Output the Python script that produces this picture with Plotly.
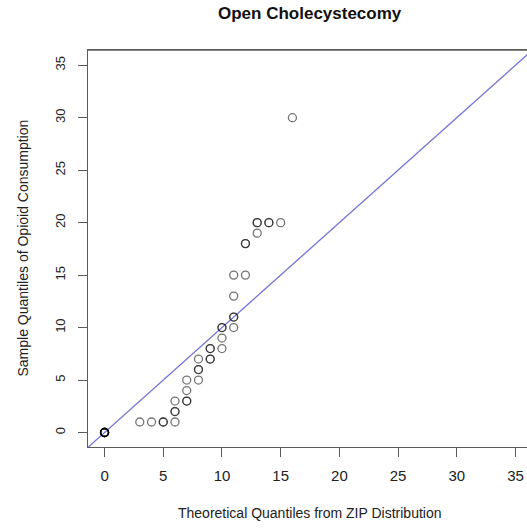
import plotly.graph_objects as go

# Theoretical quantiles (ZIP) and sample quantiles, with repeats
theoretical = [0, 0, 0, 0, 0, 0, 0, 0,
               3, 4, 5, 5, 6, 6, 6, 6, 7, 7, 7, 7, 8, 8, 8, 8,
               9, 9, 9, 9, 10, 10, 10, 10, 11, 11, 11, 11, 11,
               12, 12, 12, 13, 13, 13, 14, 14, 15, 16]
sample = [0, 0, 0, 0, 0, 0, 0, 0,
          1, 1, 1, 1, 1, 2, 2, 3, 3, 3, 4, 5, 5, 6, 6, 7,
          7, 7, 8, 8, 8, 9, 10, 10, 10, 11, 11, 13, 15,
          15, 18, 18, 19, 20, 20, 20, 20, 20, 30]

ref_intercept = 0
ref_slope = 1

tick_vals = [0, 5, 10, 15, 20, 25, 30, 35]
tick_text = ["0", "5", "10", "15", "20", "25", "30", "35"]

x_range = [-1.41, 35.98]
y_range = [-1.38, 36.45]

FONT = "Liberation Sans, Arial, sans-serif"

fig = go.Figure()

line_x = [x_range[0] - 5, x_range[1] + 5]
line_y = [ref_intercept + ref_slope * v for v in line_x]
fig.add_trace(go.Scatter(x=line_x, y=line_y, mode="lines",
                         line=dict(color="#7373d6", width=1.3),
                         hoverinfo="skip", showlegend=False))

fig.add_trace(go.Scatter(x=theoretical, y=sample, mode="markers",
                         marker=dict(symbol="circle-open", size=8,
                                     color="rgba(0,0,0,0.55)",
                                     line=dict(width=1.3)),
                         showlegend=False))

fig.update_layout(
    width=527, height=529,
    margin=dict(l=88, r=0, t=50, b=82, autoexpand=False),
    plot_bgcolor="white", paper_bgcolor="white",
    font=dict(family=FONT, color="#222"),
    xaxis=dict(range=x_range, tickvals=tick_vals, ticktext=tick_text,
               automargin=False,
               showgrid=False, zeroline=False, showline=True, mirror=True,
               linecolor="#5a5a5a", linewidth=1.3,
               ticks="outside", ticklen=9, tickcolor="#5a5a5a", tickwidth=1.2,
               tickfont=dict(size=15, family=FONT, color="#222"),
               ticklabelstandoff=6),
    yaxis=dict(range=y_range, tickvals=tick_vals, ticktext=tick_text,
               automargin=False,
               showgrid=False, zeroline=False, showline=True, mirror=False,
               linecolor="#5a5a5a", linewidth=1.3,
               ticks="outside", ticklen=9, tickcolor="#5a5a5a", tickwidth=1.2,
               tickangle=-90,
               tickfont=dict(size=13, family=FONT, color="#222"),
               ticklabelstandoff=8),
    shapes=[dict(type="line", xref="paper", yref="paper", x0=0, x1=1,
                 y0=1, y1=1, line=dict(color="#5a5a5a", width=1.5))],
    annotations=[
        dict(text="<b>Open Cholecystecomy</b>", xref="paper", yref="paper",
             x=0.505, y=1, yshift=37, xanchor="center", yanchor="middle",
             showarrow=False, font=dict(size=17, family=FONT, color="#111")),
        dict(text="Theoretical Quantiles from ZIP Distribution", xref="paper",
             yref="paper", x=0.505, y=0, yshift=-66, xanchor="center",
             yanchor="middle", showarrow=False,
             font=dict(size=14, family=FONT, color="#222")),
        dict(text="Sample Quantiles of Opioid Consumption", xref="paper",
             yref="paper", x=0, y=0.5, xshift=-66, textangle=-90,
             xanchor="center", yanchor="middle", showarrow=False,
             font=dict(size=14, family=FONT, color="#222")),
    ],
)

fig.write_html("out.html",
               config={"displayModeBar": False},
               post_script="document.body.style.margin='0px';")
